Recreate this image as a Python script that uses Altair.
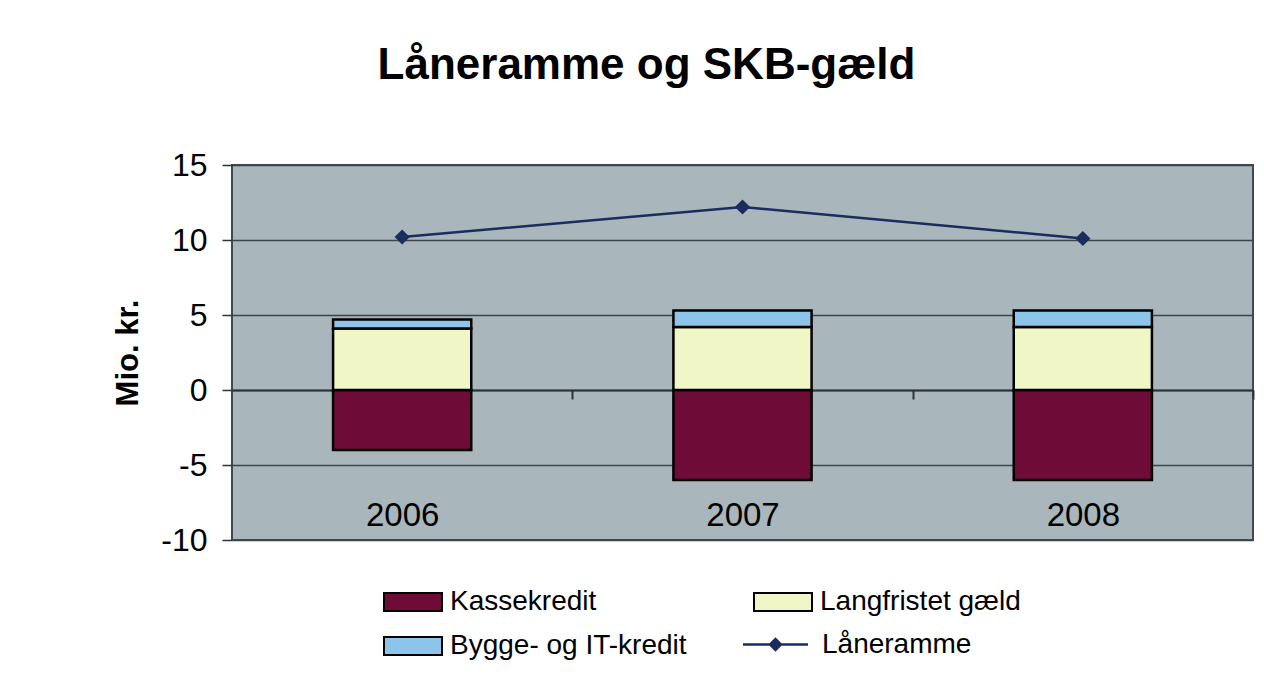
import altair as alt
import pandas as pd

years = ["2006", "2007", "2008"]
kassekredit = [-4.0, -6.0, -6.0]
langfristet = [4.1, 4.2, 4.2]
bygge = [0.6, 1.1, 1.1]
laaneramme = [10.2, 12.2, 10.1]
series = ["Kassekredit", "Langfristet gæld", "Bygge- og IT-kredit"]
colors = ["#6e0b36", "#f1f6c6", "#8cc5e9"]
line_name = "Låneramme"
navy = "#1b2c5e"

FONT = "Liberation Sans"

rows = []
for i, yr in enumerate(years):
    for k, (name, vals) in enumerate(zip(series, [kassekredit, langfristet, bygge])):
        rows.append({"year": yr, "serie": name, "value": vals[i], "order": k})
bars_df = pd.DataFrame(rows)
line_df = pd.DataFrame({"year": years, "value": laaneramme, "serie": [line_name] * len(years)})

x_enc = alt.X(
    "year:N",
    scale=alt.Scale(paddingInner=0.594, paddingOuter=0.297),
    axis=alt.Axis(
        title=None, orient="bottom", offset=-150,
        domainColor="#2b3338", domainWidth=2,
        ticks=True, tickSize=9, tickColor="#2b3338", tickWidth=2, tickOffset=170,
        labelOffset=-170,
        labelPadding=100, labelFontSize=33, labelColor="black", labelFont=FONT, labelAngle=0,
    ),
)
y_scale = alt.Scale(domain=[-10, 15], nice=False)
y_axis = alt.Axis(
    values=[-10, -5, 0, 5, 10, 15], grid=True, gridColor="#3a464c", gridWidth=1.6,
    domain=False, tickSize=10, tickColor="#2b3338", tickWidth=1.5,
    labelExpr="datum.value + ''",
    labelFontSize=32, labelFont=FONT, labelColor="black", labelPadding=15,
    title="Mio. kr.", titleFontSize=31, titleFont=FONT, titleFontWeight="bold",
    titleColor="black", titlePadding=16,
)

bars = alt.Chart(bars_df).mark_bar(stroke="black", strokeWidth=2.5).encode(
    x=x_enc,
    y=alt.Y("value:Q", stack="zero", scale=y_scale, axis=y_axis),
    color=alt.Color(
        "serie:N",
        scale=alt.Scale(domain=series, range=colors),
        sort=series,
        legend=alt.Legend(
            title=None, orient="none", legendX=151, legendY=407, columns=2,
            direction="horizontal",
            columnPadding=63, rowPadding=0,
            symbolType="M-1,-0.31L1,-0.31L1,0.31L-1,0.31Z", symbolSize=3364,
            symbolStrokeColor="black", symbolStrokeWidth=2, symbolOpacity=1,
            labelFontSize=28, labelFont=FONT, labelColor="black", labelLimit=500, labelOffset=7,
        ),
    ),
    order=alt.Order("order:Q"),
)

line = alt.Chart(line_df).mark_line(color=navy, strokeWidth=2.5).encode(
    x=x_enc,
    y=alt.Y("value:Q", scale=y_scale, axis=y_axis),
)

points = alt.Chart(line_df).mark_point(shape="diamond", filled=True, size=230, opacity=1).encode(
    x=x_enc,
    y=alt.Y("value:Q", scale=y_scale, axis=y_axis),
    color=alt.Color(
        "serie:N",
        scale=alt.Scale(domain=[line_name], range=[navy]),
        legend=alt.Legend(
            title=None, orient="none", legendX=511, legendY=447,
            symbolType="M-1,-0.035L1,-0.035L1,0.035L-1,0.035Z M-0.22,0L0,-0.22L0.22,0L0,0.22Z",
            symbolSize=4225, symbolOpacity=1, symbolStrokeWidth=0,
            labelFontSize=28, labelFont=FONT, labelColor="black", labelLimit=500, labelOffset=14,
        ),
    ),
)

chart = (
    alt.layer(bars, line, points)
    .resolve_scale(color="independent")
    .properties(
        width=1021,
        height=375,
        background="white",
        title=alt.Title(
            "Låneramme og SKB-gæld", fontSize=44, font=FONT, fontWeight="bold",
            color="black", anchor="middle", frame="group", dx=-96, offset=61,
        ),
        autosize=alt.AutoSizeParams(type="none"),
        padding={"left": 224, "top": 157, "right": 3, "bottom": 130},
    )
    .configure_view(fill="#a9b6bb", stroke="#3f4b52", strokeWidth=2)
)

chart.save("out.html", embed_options={"renderer": "svg", "actions": False})
